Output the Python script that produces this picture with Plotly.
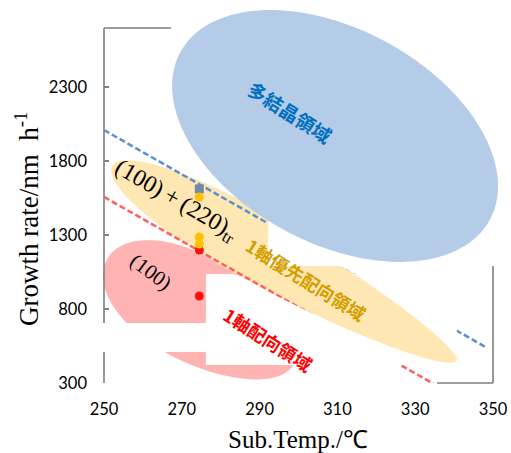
import numpy as np
import plotly.graph_objects as go

# Growth rate (nm/h) measured at the substrate temperature (deg C)
poly_temp = [274.5]
poly_rate = [1612]
pref_temp = [274.5, 274.5, 274.5]
pref_rate = [1557, 1287, 1240]
uni_temp = [274.5, 274.5]
uni_rate = [1199, 888]

# Boundary lines between the growth regimes
upper_bound_temp = [250, 348.5]
upper_bound_rate = [2010, 537]
lower_bound_temp = [250, 335.3]
lower_bound_rate = [1558, 286]

x_ticks = [250, 270, 290, 310, 330, 350]
y_ticks = [300, 800, 1300, 1800, 2300]

X_RANGE = (250, 350)
Y_RANGE = (300, 2700)
ML, MR, MT, MB = 104, 18, 28, 70
W, H = 511 - ML - MR, 453 - MT - MB  # plot area in px


def to_paper(x, y):
    return ((np.asarray(x) - X_RANGE[0]) / (X_RANGE[1] - X_RANGE[0]),
            (np.asarray(y) - Y_RANGE[0]) / (Y_RANGE[1] - Y_RANGE[0]))


def ellipse_pts(cx, cy, a, b, angle, taper=0.0, v0=0.0, n=180):
    """Tilted (optionally egg-shaped) ellipse centred on a data point.

    a, b are semi-axes in px, angle is clockwise in degrees, taper narrows
    the lower-right end and widens the upper-left end, v0 shifts the shape
    across its long axis (px, positive = downwards)."""
    px, py = to_paper(cx, cy)
    t = np.linspace(0, 2 * np.pi, n, endpoint=False)
    th = np.radians(angle)
    u = a * np.cos(t)
    v = v0 + b * np.sin(t) * (1 - taper * np.cos(t))
    dx = u * np.cos(th) - v * np.sin(th)
    dy = u * np.sin(th) + v * np.cos(th)
    return px + dx / W, py - dy / H


def path_of(xs, ys):
    return "M" + "L".join(f"{x:.5f},{y:.5f}" for x, y in zip(xs, ys)) + "Z"


def rect_path(x0, x1, y0, y1):
    (px0, px1), (py0, py1) = to_paper([x0, x1], [y0, y1])
    return path_of([px0, px1, px1, px0], [py0, py0, py1, py1]), (px0, px1, py0, py1)


def mask_with_hole(x0, x1, y0, y1, region):
    """White mask rectangle that leaves a region uncovered."""
    outer, (px0, px1, py0, py1) = rect_path(x0, x1, y0, y1)
    ex, ey = ellipse_pts(**region)
    ex = np.clip(ex, px0, px1)
    ey = np.clip(ey, py0, py1)
    return outer + path_of(ex, ey)


# Growth-regime regions
poly_region = dict(cx=309.4, cy=1970, a=176, b=107, angle=28.4)
pref_region = dict(cx=296.5, cy=1111, a=198, b=33, angle=29.3, taper=0.2)
uni_region = dict(cx=274.7, cy=780, a=107, b=52, angle=29.7, taper=0.1)
# opening left in the white masks (upper rim of the preferred region trimmed)
pref_opening = dict(pref_region, b=30.5, v0=2.5)

BLUE_FILL = "#B4CCE8"
GOLD_FILL = "#FFE7B3"
PINK_FILL = "#FFB3B3"
AXIS_GREY = "#7F7F7F"

fig = go.Figure()

fig.add_trace(go.Scatter(x=upper_bound_temp, y=upper_bound_rate, mode="lines",
                         line=dict(color="#5B8FD3", width=2.5, dash="6px,3px"),
                         hoverinfo="skip"))
fig.add_trace(go.Scatter(x=lower_bound_temp, y=lower_bound_rate, mode="lines",
                         line=dict(color="#FF5E5E", width=2.5, dash="6px,3px"),
                         hoverinfo="skip"))
fig.add_trace(go.Scatter(x=uni_temp, y=uni_rate, mode="markers",
                         marker=dict(color="#FF1010", size=9)))
fig.add_trace(go.Scatter(x=poly_temp, y=poly_rate, mode="markers",
                         marker=dict(color="#6F89A8", size=9, symbol="square")))
fig.add_trace(go.Scatter(x=pref_temp, y=pref_rate, mode="markers",
                         marker=dict(color="#FFC000", size=9)))

shapes = []
# regions under the data
for reg, col in ((uni_region, PINK_FILL), (pref_region, GOLD_FILL)):
    ex, ey = ellipse_pts(**reg)
    shapes.append(dict(type="path", xref="paper", yref="paper", path=path_of(ex, ey),
                       fillcolor=col, line=dict(width=0), layer="below"))


# frame segments
def seg(x0, y0, x1, y1, layer="below"):
    return dict(type="line", xref="paper", yref="paper", x0=x0, y0=y0, x1=x1, y1=y1,
                line=dict(color=AXIS_GREY, width=1.6), layer=layer)


shapes += [
    seg(0, 0, 0, 1),
    seg(0, 1, (171 - ML) / W, 1),
    seg(1, 0, 1, (MT + H - 266) / H),
    seg((437 - ML) / W, 0, 1, 0),
]

# white masks over the frame and lines
white = dict(fillcolor="white", line=dict(width=0), layer="above",
             xref="paper", yref="paper", type="path")
shapes.append(dict(white, path=rect_path(292.2, 356, 1091, 2900)[0]))
shapes.append(dict(white, path=mask_with_hole(276.2, 340.7, 421.7, 1037, pref_opening),
                   fillrule="evenodd"))
shapes.append(dict(white, path=mask_with_hole(286.2, 340.7, 1037, 1091, pref_opening),
                   fillrule="evenodd"))
shapes.append(dict(white, path=rect_path(246.4, 276.2, 509.6, 705.6)[0]))

# polycrystalline region on top
ex, ey = ellipse_pts(**poly_region)
shapes.append(dict(type="path", xref="paper", yref="paper", path=path_of(ex, ey),
                   fillcolor=BLUE_FILL, line=dict(width=0), layer="above"))


def px_paper(px, py):
    return (px - ML) / W, (MT + H - py) / H


def note(text, px, py, angle, size, color, family, bold=False):
    x, y = px_paper(px, py)
    return dict(text=f"<b>{text}</b>" if bold else text, x=x, y=y, xref="paper", yref="paper",
                showarrow=False, textangle=angle, xanchor="center", yanchor="middle",
                font=dict(size=size, color=color, family=family))


JP = "Noto Sans CJK JP"
SERIF = "Liberation Serif"
annotations = [
    note("多結晶領域", 290, 111, 32.5, 19, "#0070C0", JP, True),
    note("1軸優先配向領域", 306, 279, 32, 18, "#D39E00", JP, True),
    note("1軸配向領域", 268, 339, 32.5, 18, "#FF0000", JP, True),
    note("(100)\u2009+\u2009(220)<sub>tr</sub>", 176, 201, 30, 24, "black", SERIF),
    note("(100)", 151, 272, 37, 21, "black", SERIF),
    note("Sub.Temp./\u2103", 298, 439, 0, 25, "black", SERIF),
    note("Growth rate/nm\u00a0 h<sup>-1</sup>", 27, 219, -90, 27, "black", SERIF),
]

tick_font = dict(family="Lato", size=16.5, color="black")
fig.update_layout(
    width=511, height=453,
    margin=dict(l=ML, r=MR, t=MT, b=MB, pad=0, autoexpand=False),
    plot_bgcolor="white", paper_bgcolor="white",
    showlegend=False,
    shapes=shapes,
    annotations=annotations,
    xaxis=dict(range=list(X_RANGE), tickvals=x_ticks, showline=False, showgrid=False,
               zeroline=False, ticks="", tickfont=tick_font, ticklabelstandoff=14,
               automargin=False),
    yaxis=dict(range=list(Y_RANGE), tickvals=y_ticks, showline=False, showgrid=False,
               zeroline=False, ticks="inside", ticklen=5, tickwidth=1.5,
               tickcolor=AXIS_GREY, tickfont=tick_font, ticklabelstandoff=16,
               automargin=False),
)

fig.write_html("out.html")
